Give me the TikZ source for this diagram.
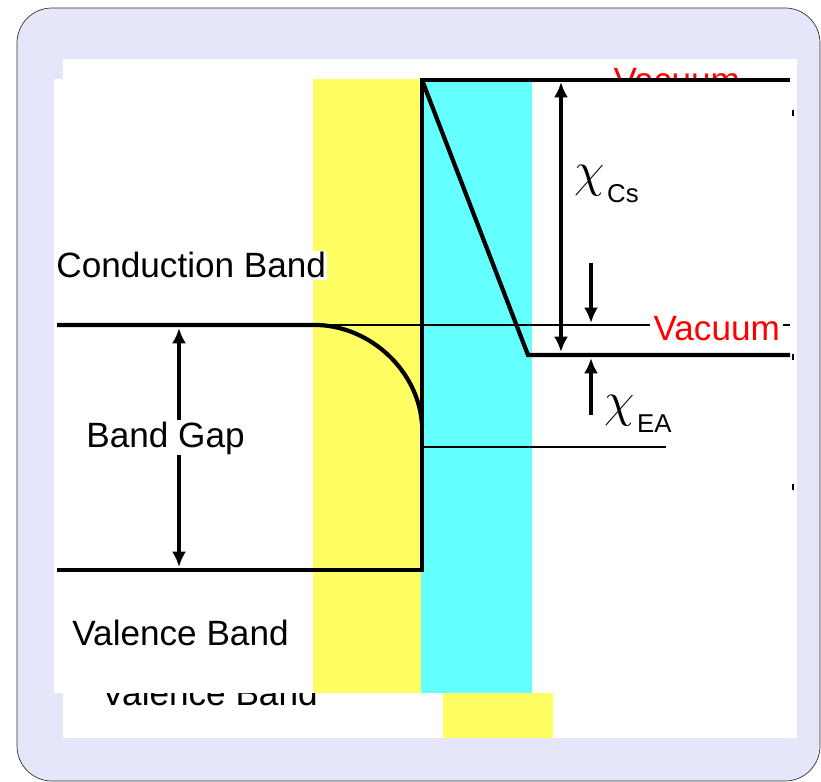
\documentclass[tikz,border=0pt]{standalone}
\usepackage{fix-cm}
\usepackage{fontspec}
\setmainfont{Liberation Sans}
\usetikzlibrary{arrows.meta}
\definecolor{lavendel}{RGB}{230,230,250}
\definecolor{gelb}{RGB}{255,255,100}
\definecolor{tuerkis}{RGB}{100,255,255}
\tikzset{
  band/.style={line width=3.6pt},
  level/.style={line width=2pt},
  gaparrow/.style={line width=2.9pt, {Latex[length=4.6mm,width=4.2mm]}-{Latex[length=4.6mm,width=4.2mm]}},
  onearrow/.style={line width=2.9pt, -{Latex[length=4.6mm,width=4.2mm]}},
  bandlabel/.style={font=\fontsize{30}{36}\selectfont, inner sep=1pt, fill=white, anchor=base west},
  vaclabel/.style={bandlabel, text=red, inner xsep=1mm},
  chisym/.style={font=\fontsize{42}{42}\selectfont, inner sep=0pt, anchor=base west},
  chisub/.style={font=\fontsize{22}{22}\selectfont, inner sep=0pt, anchor=base west}
}

\begin{document}
\begin{tikzpicture}[x=0.3mm, y=-0.3mm]

    \useasboundingbox (0,0) rectangle (821,782);

    % Rahmen
    \draw[fill=lavendel, draw=black!80, line width=0.6pt, rounded corners=10.5mm] (17,8) rectangle (820,781);

    % --- hinteres Bild ---
    \fill[white] (63,59) rectangle (797,738);
    \fill[gelb] (443,79) rectangle (553,738);
    \node[vaclabel, fill=none] (vacback) at (610,93) {Vacuum};
    \node[bandlabel, fill=none] (valback) at (100,705) {Valence Band};
    \foreach \y in {113,357,487} {
        \draw[line width=1.2pt] (793,\y-3) -- (793,\y+3);
    }

    % --- vorderes Bild ---
    \fill[white] (54,79) rectangle (790,693);
    \fill[gelb] (313,79) rectangle (421,693);
    \fill[tuerkis] (421,79) rectangle (532,693);

    % Koordinaten
    \coordinate (top) at (422,80);
    \coordinate (topend) at (790,80);
    \coordinate (foot) at (528,355);
    \coordinate (footend) at (790,355);
    \coordinate (cbleft) at (57,325);
    \coordinate (cbbend) at (318,325);
    \coordinate (cbdown) at (422,425);
    \coordinate (vacend) at (790,325);
    \coordinate (vbleft) at (57,570);
    \coordinate (vbright) at (422,570);
    \coordinate (lowleft) at (422,447);
    \coordinate (lowend) at (666,447);

    % Niveaus
    \draw[level] (cbleft) -- (vacend);
    \draw[level] (lowleft) -- (lowend);
    \draw[band] (topend) -- (top) -- (vbright) -- (vbleft);
    \draw[band] (top) -- (foot) -- (footend);
    \draw[band] (cbleft) -- (cbbend) .. controls (372,327) and (419,372) .. (cbdown);

    % Pfeile
    \coordinate (gaptop) at (179,328);
    \coordinate (gapbot) at (179,567);
    \draw[gaparrow] (gaptop) -- (gapbot);
    \coordinate (cstop) at (561,82);
    \coordinate (csbot) at (561,352);
    \draw[gaparrow] (cstop) -- (csbot);
    \coordinate (dnstart) at (591,263);
    \coordinate (dntip) at (591,323);
    \draw[onearrow] (dnstart) -- (dntip);
    \coordinate (upstart) at (591,415);
    \coordinate (uptip) at (591,358);
    \draw[onearrow] (upstart) -- (uptip);

    % Beschriftungen
    \node[bandlabel] (cb) at (55,278) {Conduction Band};
    \node[bandlabel] (gap) at (85,447) {Band Gap};
    \node[bandlabel] (vb) at (71,645) {Valence Band};
    \node[vaclabel] (vac) at (650,340) {Vacuum};
    \node[chisym] (chics) at (574,187) {$\chi$};
    \node[chisub] (cs) at (607,203) {Cs};
    \node[chisym] (chiea) at (604,416) {$\chi$};
    \node[chisub] (ea) at (637,432) {EA};

\end{tikzpicture}
\end{document}
